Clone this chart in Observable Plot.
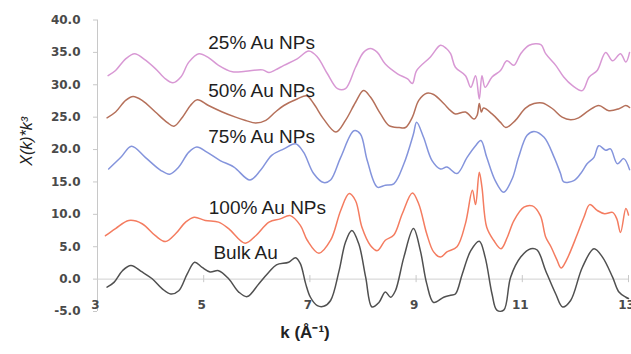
<!DOCTYPE html>
<html>
<head>
<meta charset="utf-8">
<script src="https://cdn.jsdelivr.net/npm/d3@7"></script>
<script src="https://cdn.jsdelivr.net/npm/@observablehq/plot@0.6"></script>
<style>
  html, body { margin: 0; padding: 0; background: #fff; }
  #chart svg { display: block; }
</style>
</head>
<body>
<div id="chart"></div>
<script>
// ---- data (k in Å^-1, value = X(k)*k^3) ----
const xTicks = [3, 5, 7, 9, 11, 13];
const yTicks = [-5, 0, 5, 10, 15, 20, 25, 30, 35, 40];

const seriesNames = ["25% Au NPs", "50% Au NPs", "75% Au NPs", "100% Au NPs", "Bulk Au"];
const seriesColors = ["#d898d4", "#b5705a", "#8494dc", "#f47c60", "#505050"];

const au25 = [[3.20,31.4],[3.34,32.2],[3.53,34.0],[3.70,34.8],[3.87,34.0],[4.09,32.5],[4.28,30.9],[4.42,30.3],[4.57,31.2],[4.72,33.5],[4.91,34.8],[5.09,34.2],[5.28,33.0],[5.54,32.0],[5.79,32.1],[6.11,32.3],[6.23,31.9],[6.35,32.3],[6.51,33.0],[6.76,34.0],[6.98,35.2],[7.14,34.3],[7.33,31.7],[7.52,29.4],[7.67,29.4],[7.86,32.7],[8.01,35.0],[8.14,35.6],[8.27,35.0],[8.42,33.2],[8.65,31.7],[8.84,30.9],[8.93,30.2],[9.01,32.2],[9.27,34.3],[9.46,36.1],[9.57,35.6],[9.65,34.8],[9.74,32.7],[9.93,31.4],[10.03,29.6],[10.12,31.4],[10.19,27.8],[10.24,31.4],[10.30,29.6],[10.43,31.2],[10.59,32.2],[10.71,33.7],[10.84,33.0],[10.97,34.8],[11.13,36.1],[11.35,36.2],[11.44,34.8],[11.63,33.0],[11.78,31.2],[11.94,29.9],[12.13,29.1],[12.26,31.2],[12.41,32.2],[12.57,35.0],[12.70,33.7],[12.85,34.8],[12.95,33.5],[13.02,35.0]];

const au50 = [[3.18,24.9],[3.34,25.8],[3.53,27.6],[3.67,28.2],[3.84,27.6],[4.09,25.8],[4.31,24.2],[4.44,23.6],[4.60,25.0],[4.75,26.8],[4.88,27.7],[5.09,26.8],[5.35,25.8],[5.60,25.0],[5.79,24.5],[5.98,24.1],[6.17,24.5],[6.35,25.8],[6.51,26.8],[6.76,27.8],[6.94,28.3],[7.07,27.1],[7.26,24.7],[7.49,22.7],[7.67,24.5],[7.86,27.3],[8.01,29.1],[8.14,28.1],[8.33,25.5],[8.49,23.7],[8.68,23.4],[8.80,23.4],[8.93,25.0],[9.05,27.6],[9.20,28.7],[9.33,28.5],[9.52,27.1],[9.65,26.0],[9.74,25.5],[9.93,25.8],[10.09,24.7],[10.15,25.3],[10.19,27.1],[10.23,25.8],[10.27,26.4],[10.43,25.5],[10.59,24.2],[10.69,23.4],[10.87,24.5],[11.06,26.4],[11.22,27.1],[11.38,27.2],[11.57,26.3],[11.75,25.0],[11.91,24.6],[12.06,24.9],[12.25,26.0],[12.44,26.8],[12.63,26.0],[12.82,26.3],[12.95,26.8],[13.02,26.5]];

const au75 = [[3.21,17.0],[3.44,18.8],[3.64,20.5],[3.90,18.8],[4.19,16.8],[4.36,16.2],[4.53,17.3],[4.72,19.6],[4.87,20.4],[5.06,19.6],[5.31,18.3],[5.57,17.3],[5.87,15.3],[6.07,16.8],[6.28,19.1],[6.51,20.1],[6.73,20.9],[6.88,19.6],[7.07,16.3],[7.26,14.9],[7.39,15.3],[7.58,18.8],[7.83,22.9],[7.95,22.4],[8.08,18.3],[8.27,14.2],[8.42,14.5],[8.58,14.7],[8.77,17.8],[8.95,22.4],[9.01,24.2],[9.14,21.9],[9.30,18.3],[9.46,17.0],[9.58,17.3],[9.77,16.3],[9.96,18.8],[10.12,20.6],[10.22,21.4],[10.33,18.8],[10.49,15.2],[10.65,13.4],[10.81,15.5],[10.93,18.8],[11.09,22.2],[11.22,22.8],[11.41,21.9],[11.60,18.8],[11.72,16.3],[11.78,15.0],[11.97,15.2],[12.10,16.3],[12.22,17.8],[12.35,18.8],[12.44,20.6],[12.57,19.9],[12.66,20.1],[12.79,17.8],[12.91,18.6],[13.02,16.9]];

const au100 = [[3.15,6.7],[3.34,7.8],[3.59,9.05],[3.84,8.55],[4.09,6.7],[4.28,5.8],[4.47,7.0],[4.66,8.8],[4.82,9.55],[5.03,9.05],[5.28,8.8],[5.47,7.8],[5.78,5.55],[5.98,6.7],[6.23,8.8],[6.44,9.3],[6.63,9.8],[6.82,8.3],[6.95,6.0],[7.17,4.0],[7.39,6.0],[7.58,10.6],[7.74,13.2],[7.86,12.1],[7.98,8.0],[8.14,5.2],[8.27,4.4],[8.42,6.0],[8.58,6.8],[8.74,10.1],[8.93,13.3],[9.05,11.6],[9.20,7.0],[9.33,4.2],[9.46,3.4],[9.58,4.2],[9.77,5.0],[9.93,8.6],[10.06,13.7],[10.12,11.5],[10.19,16.5],[10.24,14.2],[10.33,8.0],[10.46,6.0],[10.60,4.7],[10.72,6.5],[10.84,9.0],[11.03,11.1],[11.19,11.3],[11.34,9.8],[11.44,6.5],[11.54,5.0],[11.65,3.0],[11.73,1.7],[11.83,2.9],[12.03,6.8],[12.16,9.55],[12.27,11.5],[12.41,10.6],[12.55,10.1],[12.70,10.3],[12.78,9.3],[12.85,7.2],[12.95,10.9],[13.00,9.9]];

const bulk = [[3.18,-1.25],[3.31,-0.5],[3.47,1.3],[3.63,2.1],[3.84,1.1],[4.03,0.05],[4.22,-1.5],[4.38,-2.3],[4.53,-1.8],[4.69,0.8],[4.83,2.6],[4.97,1.8],[5.12,1.1],[5.28,1.3],[5.47,0.05],[5.66,-2.0],[5.82,-2.7],[6.04,-0.7],[6.23,1.1],[6.37,2.2],[6.60,2.6],[6.73,3.3],[6.82,2.4],[6.92,-0.7],[7.01,-2.8],[7.14,-4.1],[7.26,-4.2],[7.39,-3.3],[7.55,1.3],[7.67,5.7],[7.79,7.5],[7.92,5.45],[8.05,0.3],[8.17,-4.3],[8.30,-3.6],[8.42,-2.0],[8.52,-2.8],[8.61,-1.8],[8.77,3.4],[8.95,7.8],[9.08,4.4],[9.20,-0.7],[9.33,-3.6],[9.52,-2.8],[9.65,-2.5],[9.74,-2.3],[9.87,0.8],[10.03,4.4],[10.19,5.85],[10.30,3.4],[10.43,-2.3],[10.52,-4.8],[10.65,-4.8],[10.78,0.3],[10.97,3.4],[11.16,4.7],[11.28,4.5],[11.44,1.3],[11.63,-2.3],[11.76,-4.3],[11.91,-3.3],[12.13,1.8],[12.35,4.7],[12.51,3.4],[12.70,0.3],[12.82,-2.0],[12.95,-2.8],[13.00,-3.0]];

const seriesData = [au25, au50, au75, au100, bulk];

// label anchor points (k, value) for the in-chart series labels
const labelK = [6.09, 6.09, 6.09, 6.20, 5.79];
const labelV = [36.5, 29.1, 21.9, 11.05, 4.0];

const yTitle = "X(k)*k³";
const xTitle = "k (Å⁻¹)";

// ---- build ----
const labels = seriesNames.map((name, i) => ({name, k: labelK[i], v: labelV[i]}));
const tickFont = "DejaVu Sans, sans-serif";

const lineMarks = seriesData.map((s, i) =>
  Plot.line(s, {x: d => d[0], y: d => d[1], stroke: seriesColors[i], strokeWidth: 1.5, curve: "catmull-rom"})
);

const chart = Plot.plot({
  width: 631,
  height: 354,
  marginLeft: 97,
  marginRight: 3,
  marginTop: 19.5,
  marginBottom: 43,
  x: {domain: [3, 13]},
  y: {domain: [-5, 40]},
  style: {fontFamily: tickFont, fontSize: "12px", background: "#fff", overflow: "visible"},
  marks: [
    Plot.ruleX([3], {stroke: "#c8c8c8"}),
    Plot.ruleY([0], {stroke: "#d0d0d0"}),
    Plot.ruleX(xTicks.slice(1), {x: d => d, y1: -0.55, y2: 0.55, stroke: "#c8c8c8"}),
    Plot.axisY({ticks: yTicks, tickFormat: d => d.toFixed(1), tickSize: 4, tickPadding: 13,
      stroke: "#c8c8c8", fill: "#4a4a4a", fontWeight: "bold", fontSize: 12, label: null}),
    Plot.axisX({ticks: xTicks, tickFormat: d => String(d), tickSize: 0, tickPadding: 0,
      dy: -11, dx: -2, fill: "#4a4a4a", fontWeight: "bold", fontSize: 12, label: null}),
    ...lineMarks,
    Plot.text(labels, {x: "k", y: "v", text: "name", fontSize: 19, fill: "#1e1e1e",
      fontFamily: "Liberation Sans, Arial, sans-serif"}),
    Plot.text([yTitle], {frameAnchor: "left", dx: -71, rotate: -90, fontSize: 16,
      fontStyle: "italic", fill: "#222", fontFamily: "Liberation Sans, Arial, sans-serif"}),
    Plot.text([xTitle], {frameAnchor: "bottom", dx: -58, dy: 26, fontSize: 17, fontWeight: "bold",
      fill: "#222", fontFamily: "Liberation Sans, Arial, sans-serif"})
  ]
});

document.getElementById("chart").appendChild(chart);
</script>
</body>
</html>
